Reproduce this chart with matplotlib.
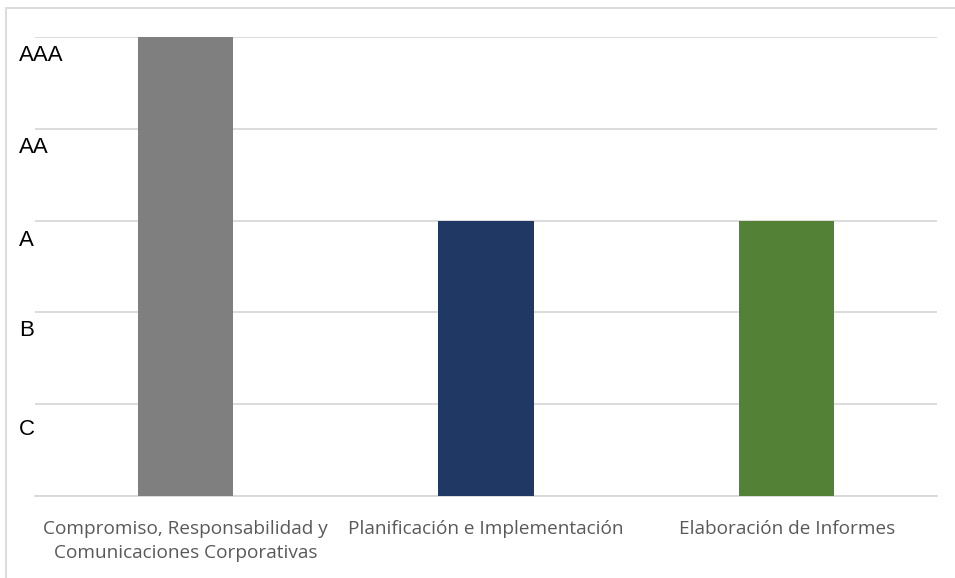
import matplotlib.pyplot as plt
from matplotlib.patches import Rectangle

categories = ["Compromiso, Responsabilidad y\nComunicaciones Corporativas",
              "Planificación e Implementación",
              "Elaboración de Informes"]
values = [5, 3, 3]
colors = ["#7f7f7f", "#1f3864", "#538135"]
rating_labels = ["C", "B", "A", "AA", "AAA"]
rating_pos = [0.72, 1.8, 2.78, 3.8, 4.8]

fig = plt.figure(figsize=(9.55, 5.78), dpi=100)
ax = fig.add_axes([35 / 955, 1 - 496 / 578, 902 / 955, 459 / 578])

x = range(len(categories))
ax.bar(x, values, width=0.316, color=colors, zorder=3)
ax.set_xlim(-0.5, len(categories) - 0.5)
ax.set_ylim(0, 5)

# grid lines only, rating names are placed as text between them
ax.set_yticks(range(6))
ax.set_yticklabels([])
ax.tick_params(axis="y", length=0)
ax.grid(axis="y", color="#d9d9d9", linewidth=1.3, zorder=0)

ax.set_xticks(list(x))
ax.set_xticklabels(categories, fontsize=13.7, color="#595959",
                   family="Open Sans", linespacing=1.45)
ax.tick_params(axis="x", length=0, pad=17)

for s in ["top", "right", "left"]:
    ax.spines[s].set_visible(False)
ax.spines["bottom"].set_color("#d9d9d9")
ax.spines["bottom"].set_linewidth(1.3)

for lab, pos in zip(rating_labels, rating_pos):
    ax.text(-0.5 - 16 / 902 * 3, pos, lab, fontsize=16, family="Liberation Sans",
            va="center", ha="left", color="#000000")

# outer frame (right and bottom edges fall outside the picture)
fig.patches.append(Rectangle((6 / 955, -0.1), 1.1, 1 - 8 / 578 + 0.1,
                             transform=fig.transFigure, fill=False,
                             edgecolor="#d9d9d9", linewidth=1.3))

fig.savefig("out.png", dpi=100)
